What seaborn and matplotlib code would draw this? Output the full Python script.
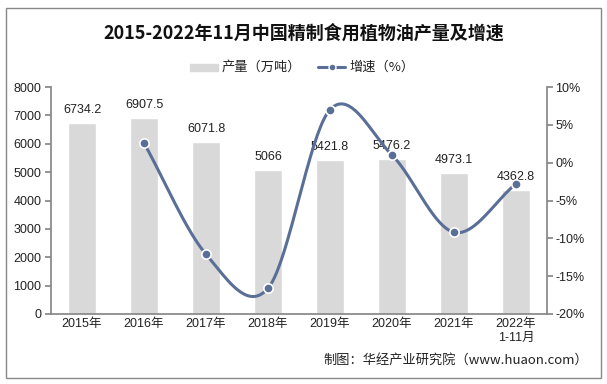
import numpy as np
import pandas as pd
import matplotlib
matplotlib.use("Agg")
import matplotlib.pyplot as plt
import seaborn as sns

years = ["2015年", "2016年", "2017年", "2018年", "2019年", "2020年", "2021年", "2022年\n1-11月"]
output = [6734.2, 6907.5, 6071.8, 5066, 5421.8, 5476.2, 4973.1, 4362.8]
growth = [None, 2.6, -12.1, -16.6, 7.0, 1.0, -9.2, -2.8]

sns.set_theme(style="white")
plt.rcParams['font.family'] = ['Liberation Sans', 'Noto Sans CJK SC', 'DejaVu Sans']

bar_color = "#d9d9d9"
line_color = "#5a6f97"
axis_color = "#888888"
cjk = ['Noto Sans CJK SC', 'DejaVu Sans']

df = pd.DataFrame({"year": years, "output": output})

fig = plt.figure(figsize=(6.07, 3.84), dpi=100)
ax = fig.add_axes([51 / 607, 1 - 314 / 384, (547 - 51) / 607, (314 - 87) / 384])

sns.barplot(data=df, x="year", y="output", color=bar_color, width=0.44, ax=ax, saturation=1)
ax.set_ylim(0, 8000)
ax.set_yticks(range(0, 8001, 1000))
ax.set_xlabel("")
ax.set_ylabel("")
ax.tick_params(axis="x", labelsize=9, colors="#222222", length=0, pad=3)
ax.tick_params(axis="y", labelsize=9, labelcolor="#222222", color=axis_color, length=4, pad=3)
for i, v in enumerate(output):
    ax.text(i, v + 250, f"{v:g}", ha="center", va="bottom", fontsize=9, color="#222222")

# x-axis ticks between categories
ax.set_xticks(np.arange(-0.5, len(years), 1), minor=True)
ax.tick_params(axis="x", which="minor", length=4, color=axis_color, direction="out")
ax.set_xlim(-0.5, len(years) - 0.5)

for s in ["top", "right"]:
    ax.spines[s].set_visible(False)
ax.spines["left"].set_color(axis_color)
ax.spines["bottom"].set_color(axis_color)

ax2 = ax.twinx()
ax2.set_ylim(-20, 10)
ax2.set_yticks(range(-20, 11, 5))
ax2.set_yticklabels([f"{t}%" for t in range(-20, 11, 5)])
ax2.tick_params(axis="y", labelsize=9, labelcolor="#222222", length=4, color=axis_color, pad=2)
for s in ["top", "left", "bottom"]:
    ax2.spines[s].set_visible(False)
ax2.spines["right"].set_color(axis_color)

# smoothed line (Catmull-Rom, like Excel's smoothed line)
xs = np.array([i for i, g in enumerate(growth) if g is not None], dtype=float)
ys = np.array([g for g in growth if g is not None], dtype=float)
px = np.concatenate([[2 * xs[0] - xs[1]], xs, [2 * xs[-1] - xs[-2]]])
py = np.concatenate([[2 * ys[0] - ys[1]], ys, [2 * ys[-1] - ys[-2]]])
cx, cy = [], []
t = np.linspace(0, 1, 40)
for k in range(1, len(px) - 2):
    p0, p1, p2, p3 = [np.array([px[j], py[j]]) for j in range(k - 1, k + 3)]
    seg = 0.5 * ((2 * p1)[:, None] + (-p0 + p2)[:, None] * t
                 + (2 * p0 - 5 * p1 + 4 * p2 - p3)[:, None] * t ** 2
                 + (-p0 + 3 * p1 - 3 * p2 + p3)[:, None] * t ** 3)
    cx.extend(seg[0])
    cy.extend(seg[1])
ax2.plot(cx, cy, color=line_color, lw=2.2, zorder=3)
sns.scatterplot(x=xs, y=ys, ax=ax2, color=line_color, s=45, edgecolor="white", linewidth=1.2, zorder=4)

fig.text(0.5, 1 - 33 / 384, "2015-2022年11月中国精制食用植物油产量及增速", ha="center", va="center",
         fontsize=13, fontweight="bold", family=cjk, color="#111111")

# legend
fig.patches.append(plt.Rectangle((190 / 607, 1 - 71 / 384), 28 / 607, 7 / 384, transform=fig.transFigure,
                                 color=bar_color, figure=fig))
fig.text(222 / 607, 1 - 67 / 384, "产量（万吨）", ha="left", va="center", fontsize=9.5,
         family=cjk, color="#222222")
fig.lines.append(plt.Line2D([318 / 607, 345 / 607], [1 - 67 / 384, 1 - 67 / 384], transform=fig.transFigure,
                            color=line_color, lw=2.2, figure=fig))
fig.lines.append(plt.Line2D([331.5 / 607], [1 - 67 / 384], transform=fig.transFigure, marker="o", ms=5,
                            color=line_color, mec="white", mew=1, figure=fig))
fig.text(349 / 607, 1 - 67 / 384, "增速（%）", ha="left", va="center", fontsize=9.5,
         family=cjk, color="#222222")

fig.text(588 / 607, 1 - 360 / 384, "制图：华经产业研究院（www.huaon.com）", ha="right", va="center", fontsize=9.5,
         family=cjk, color="#222222")

fig.patches.append(plt.Rectangle((6 / 607, 6 / 384), 595 / 607, 370 / 384, transform=fig.transFigure,
                                 fill=False, edgecolor=axis_color, lw=1, figure=fig))

fig.savefig("out.png", dpi=100)
